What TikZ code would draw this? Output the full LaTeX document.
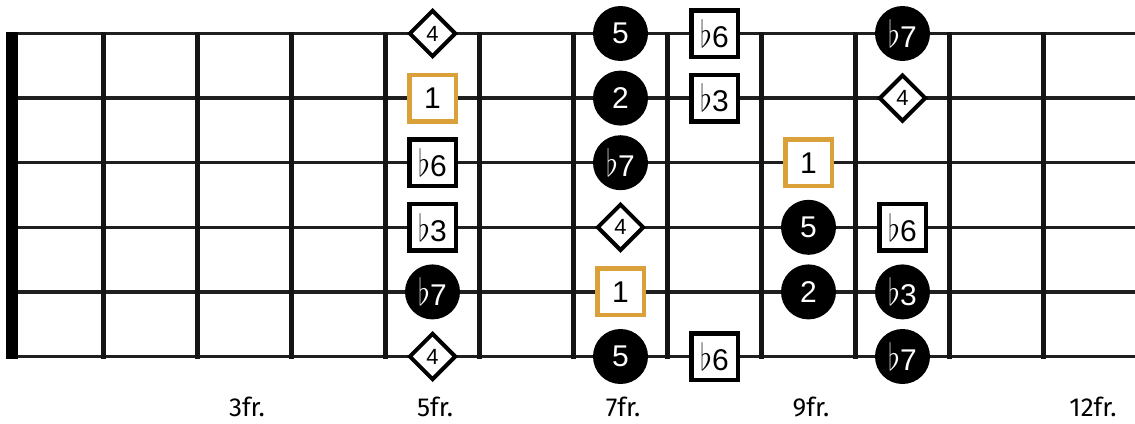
\documentclass[tikz,border=0pt]{standalone}
\usepackage{fontspec}
\setmainfont{Liberation Sans}
\newfontfamily\fretfont{Fira Sans}
\usetikzlibrary{shapes.geometric}
\definecolor{rootcol}{RGB}{218,160,58}
\newcommand{\fl}{\scalebox{1.25}[1.5]{$\flat$}}

\begin{document}
\begin{tikzpicture}[x=1pt, y=-1pt,
		stringline/.style={line width=3.5pt, draw=black!88},
		fretwire/.style={line width=5pt, draw=black!92},
		degree/.style={inner sep=0pt, font=\fontsize{30}{30}\selectfont},
		chordtone/.style={degree, circle, fill=black, text=white, minimum size=55pt},
		tonebox/.style={degree, rectangle, draw=black, line width=4.5pt, fill=white, minimum size=46.5pt},
		roottone/.style={tonebox, draw=rootcol},
		fourthtone/.style={degree, diamond, draw=black, line width=4pt, fill=white, minimum size=47pt, font=\fontsize{22}{22}\selectfont},
		fretlabel/.style={anchor=base, font=\fretfont\fontsize{26}{26}\selectfont}]
	\useasboundingbox (0, 0) rectangle (1135, 423);
	
	% Strings
	\foreach \s in {0,...,5} {
		\draw[stringline] (6, {33.5+64.6*\s}) -- (1140, {33.5+64.6*\s});
	}
	
	% Frets and nut
	\foreach \f in {1,...,11} {
		\draw[fretwire] ({9.5+94*\f}, 31.5) -- ({9.5+94*\f}, 358.5);
	}
	\fill[black] (6, 31.5) rectangle (18, 358.5);
	
	% Fret numbers
	\foreach \f in {3, 5, 7, 9, 12} {
		\node[fretlabel] (fr\f) at ({94*\f-35}, 416) {\f fr.};
	}
	
	% Chord tones (circles)
	\foreach \f/\s/\t in {7/1/5, 7/2/2, 7/3/\fl7, 7/6/5, 5/5/\fl7, 9/4/5, 9/5/2, 10/1/\fl7, 10/5/\fl3, 10/6/\fl7} {
		\node[chordtone] (n\f-\s) at ({94*\f-37.5}, {33.5+64.6*(\s-1)}) {\t};
	}
	
	% Scale tones (squares)
	\foreach \f/\s/\t in {5/3/\fl6, 5/4/\fl3, 8/1/\fl6, 8/2/\fl3, 8/6/\fl6, 10/4/\fl6} {
		\node[tonebox] (n\f-\s) at ({94*\f-37.5}, {33.5+64.6*(\s-1)}) {\t};
	}
	
	% Roots
	\foreach \f/\s in {5/2, 7/5, 9/3} {
		\node[roottone] (n\f-\s) at ({94*\f-37.5}, {33.5+64.6*(\s-1)}) {1};
	}
	
	% Fourths (diamonds)
	\foreach \f/\s in {5/1, 5/6, 7/4, 10/2} {
		\node[fourthtone] (n\f-\s) at ({94*\f-37.5}, {33.5+64.6*(\s-1)}) {4};
	}
\end{tikzpicture}
\end{document}
